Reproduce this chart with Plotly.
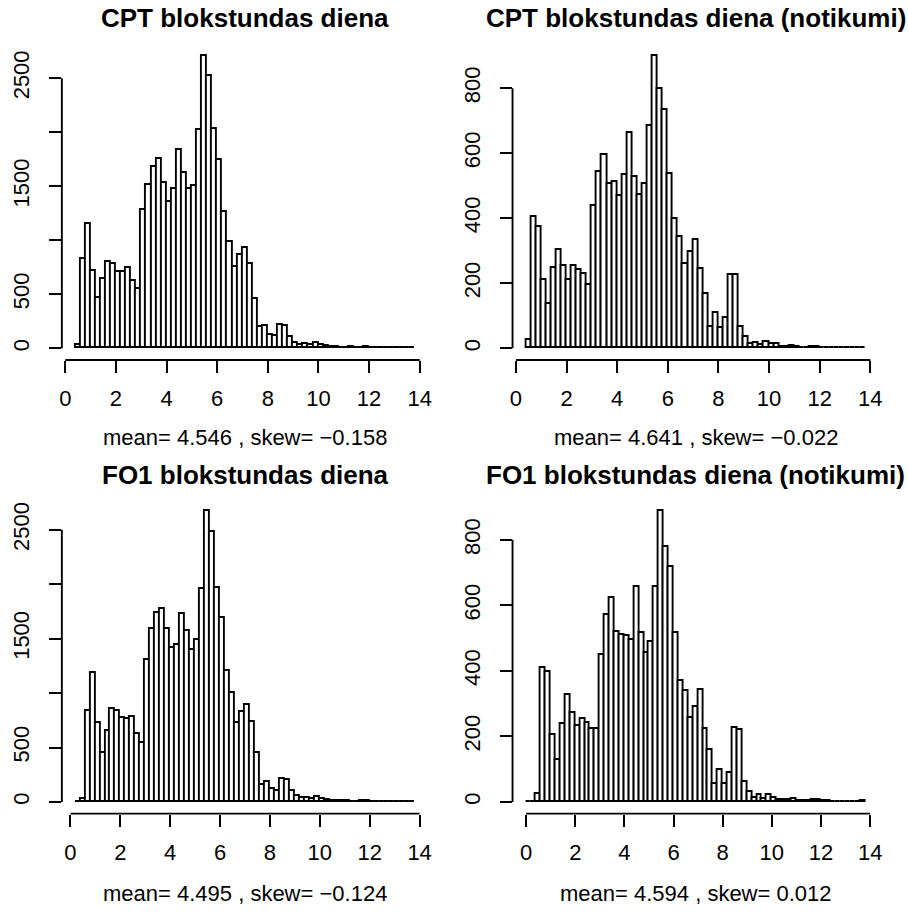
import plotly.graph_objects as go

# ---------------- data ----------------
BIN_WIDTH = 0.2

titles = [
    "CPT blokstundas diena",
    "CPT blokstundas diena (notikumi)",
    "FO1 blokstundas diena",
    "FO1 blokstundas diena (notikumi)",
]
subtitles = [
    "mean= 4.546 , skew= \u22120.158",
    "mean= 4.641 , skew= \u22120.022",
    "mean= 4.495 , skew= \u22120.124",
    "mean= 4.594 , skew= 0.012",
]
break_start = [0.4, 0.4, 0.2, 0.0]
break_end = [13.8, 13.8, 13.8, 13.8]

cpt_counts = [31, 827, 1152, 718, 461, 641, 802, 783, 706, 706, 740, 622, 548,
              1279, 1511, 1681, 1750, 1532, 1356, 1471, 1836, 1625, 1471, 1501,
              2024, 2708, 2517, 2027, 1742, 1260, 988, 750, 860, 925, 783, 455,
              195, 207, 127, 112, 219, 207, 109, 52, 28, 40, 28, 52, 28, 22,
              12, 8, 6, 5, 8, 4, 3, 8, 6, 3, 3, 5, 2, 2, 2, 1, 3]
cpt_events = [24, 403, 374, 209, 136, 246, 301, 254, 209, 254, 242, 229, 195,
              439, 543, 596, 506, 511, 470, 533, 661, 527, 471, 504, 685, 900,
              798, 734, 537, 399, 343, 258, 295, 334, 244, 168, 65, 110, 61, 93,
              227, 224, 67, 36, 13, 17, 9, 20, 13, 13, 5, 3, 8, 3, 2, 2, 5, 5,
              2, 2, 1, 1, 1, 1, 1, 1, 2]
fo1_counts = [0, 24, 835, 1187, 728, 453, 652, 857, 832, 774, 762, 783, 627,
              545, 1304, 1593, 1737, 1774, 1593, 1410, 1441, 1727, 1568, 1396,
              1491, 1954, 2676, 2483, 1969, 1687, 1206, 1004, 723, 824, 894, 738,
              447, 153, 181, 119, 104, 211, 199, 98, 55, 37, 37, 24, 49, 24, 15,
              10, 8, 6, 7, 4, 3, 6, 5, 3, 3, 4, 2, 2, 2, 2, 1, 2]
fo1_events = [0, 0, 24, 408, 397, 203, 129, 237, 327, 270, 231, 253, 240, 223,
              223, 447, 570, 623, 519, 508, 506, 494, 655, 517, 456, 487, 655,
              889, 778, 717, 517, 370, 338, 256, 291, 342, 224, 158, 56, 96, 56,
              88, 225, 221, 62, 29, 12, 20, 10, 20, 12, 7, 7, 5, 9, 4, 3, 3, 6,
              5, 2, 2, 1, 1, 1, 1, 1, 1, 2]
counts = [cpt_counts, cpt_events, fo1_counts, fo1_events]

x_ticks = [0, 2, 4, 6, 8, 10, 12, 14]
y_ticks = [[0, 500, 1000, 1500, 2000, 2500], [0, 200, 400, 600, 800],
           [0, 500, 1000, 1500, 2000, 2500], [0, 200, 400, 600, 800]]
y_ticktext = [["0", "500", "", "1500", "", "2500"], ["0", "200", "400", "600", "800"],
              ["0", "500", "", "1500", "", "2500"], ["0", "200", "400", "600", "800"]]

# ---------------- layout / style ----------------
W, H = 908, 916
FONT = "Liberation Sans, Arial, Helvetica, sans-serif"
LW = 1.9
FS = 22
FS_TITLE = 26
col_px = [(59.3, 428.5), (513.5, 882.6)]
row_px = [(44.0, 360.0), (499.0, 813.6)]
title_y_px = [18, 475]
sub_y_px = [437, 893]

fig = go.Figure()
shapes = []
annotations = []

for i in range(4):
    r, c = divmod(i, 2)
    n = len(counts[i])
    centers = [break_start[i] + BIN_WIDTH * (k + 0.5) for k in range(n)]
    xa = "x" if i == 0 else f"x{i+1}"
    ya = "y" if i == 0 else f"y{i+1}"
    fig.add_trace(go.Bar(
        x=centers, y=counts[i], width=BIN_WIDTH,
        marker=dict(color="white", line=dict(color="black", width=LW)),
        xaxis=xa, yaxis=ya, showlegend=False, hoverinfo="x+y",
    ))
    span = break_end[i] - break_start[i]
    xr = [break_start[i] - 0.04 * span, break_end[i] + 0.04 * span]
    M = max(counts[i])
    yr = [-0.04 * M, 1.04 * M]
    x0, x1 = col_px[c]
    yt, yb = row_px[r]
    key_x = "xaxis" if i == 0 else f"xaxis{i+1}"
    key_y = "yaxis" if i == 0 else f"yaxis{i+1}"
    fig.update_layout({
        key_x: dict(domain=[x0 / W, x1 / W], range=xr, anchor=ya,
                    tickmode="array", tickvals=x_ticks,
                    ticks="outside", ticklen=12, tickwidth=LW, tickcolor="black",
                    showline=False, showgrid=False, zeroline=False,
                    ticklabelstandoff=7,
                    tickfont=dict(family=FONT, size=FS, color="black")),
        key_y: dict(domain=[1 - yb / H, 1 - yt / H], range=yr, anchor=xa,
                    tickmode="array", tickvals=y_ticks[i], ticktext=y_ticktext[i],
                    ticks="outside", ticklen=12, tickwidth=LW, tickcolor="black",
                    tickangle=-90,
                    showline=False, showgrid=False, zeroline=False,
                    ticklabelstandoff=11,
                    tickfont=dict(family=FONT, size=FS, color="black")),
    })
    # R-style axis lines spanning only the tick range
    shapes.append(dict(type="line", xref=xa, yref=f"{ya} domain",
                       x0=x_ticks[0], x1=x_ticks[-1], y0=0, y1=0,
                       line=dict(color="black", width=LW)))
    shapes.append(dict(type="line", xref=f"{xa} domain", yref=ya,
                       x0=0, x1=0, y0=y_ticks[i][0], y1=y_ticks[i][-1],
                       line=dict(color="black", width=LW)))
    cx = (x0 + x1) / 2 / W
    annotations.append(dict(text=f"<b>{titles[i]}</b>", xref="paper", yref="paper",
                            x=cx, y=1 - title_y_px[r] / H, xanchor="center",
                            yanchor="middle", showarrow=False,
                            font=dict(family=FONT, size=FS_TITLE, color="black")))
    annotations.append(dict(text=subtitles[i], xref="paper", yref="paper",
                            x=cx, y=1 - sub_y_px[r] / H, xanchor="center",
                            yanchor="middle", showarrow=False,
                            font=dict(family=FONT, size=FS, color="black")))

fig.update_layout(
    width=W, height=H, margin=dict(l=0, r=0, t=0, b=0),
    paper_bgcolor="white", plot_bgcolor="white",
    bargap=0, shapes=shapes, annotations=annotations,
    font=dict(family=FONT, color="black"),
)

fig.write_html("out.html")
